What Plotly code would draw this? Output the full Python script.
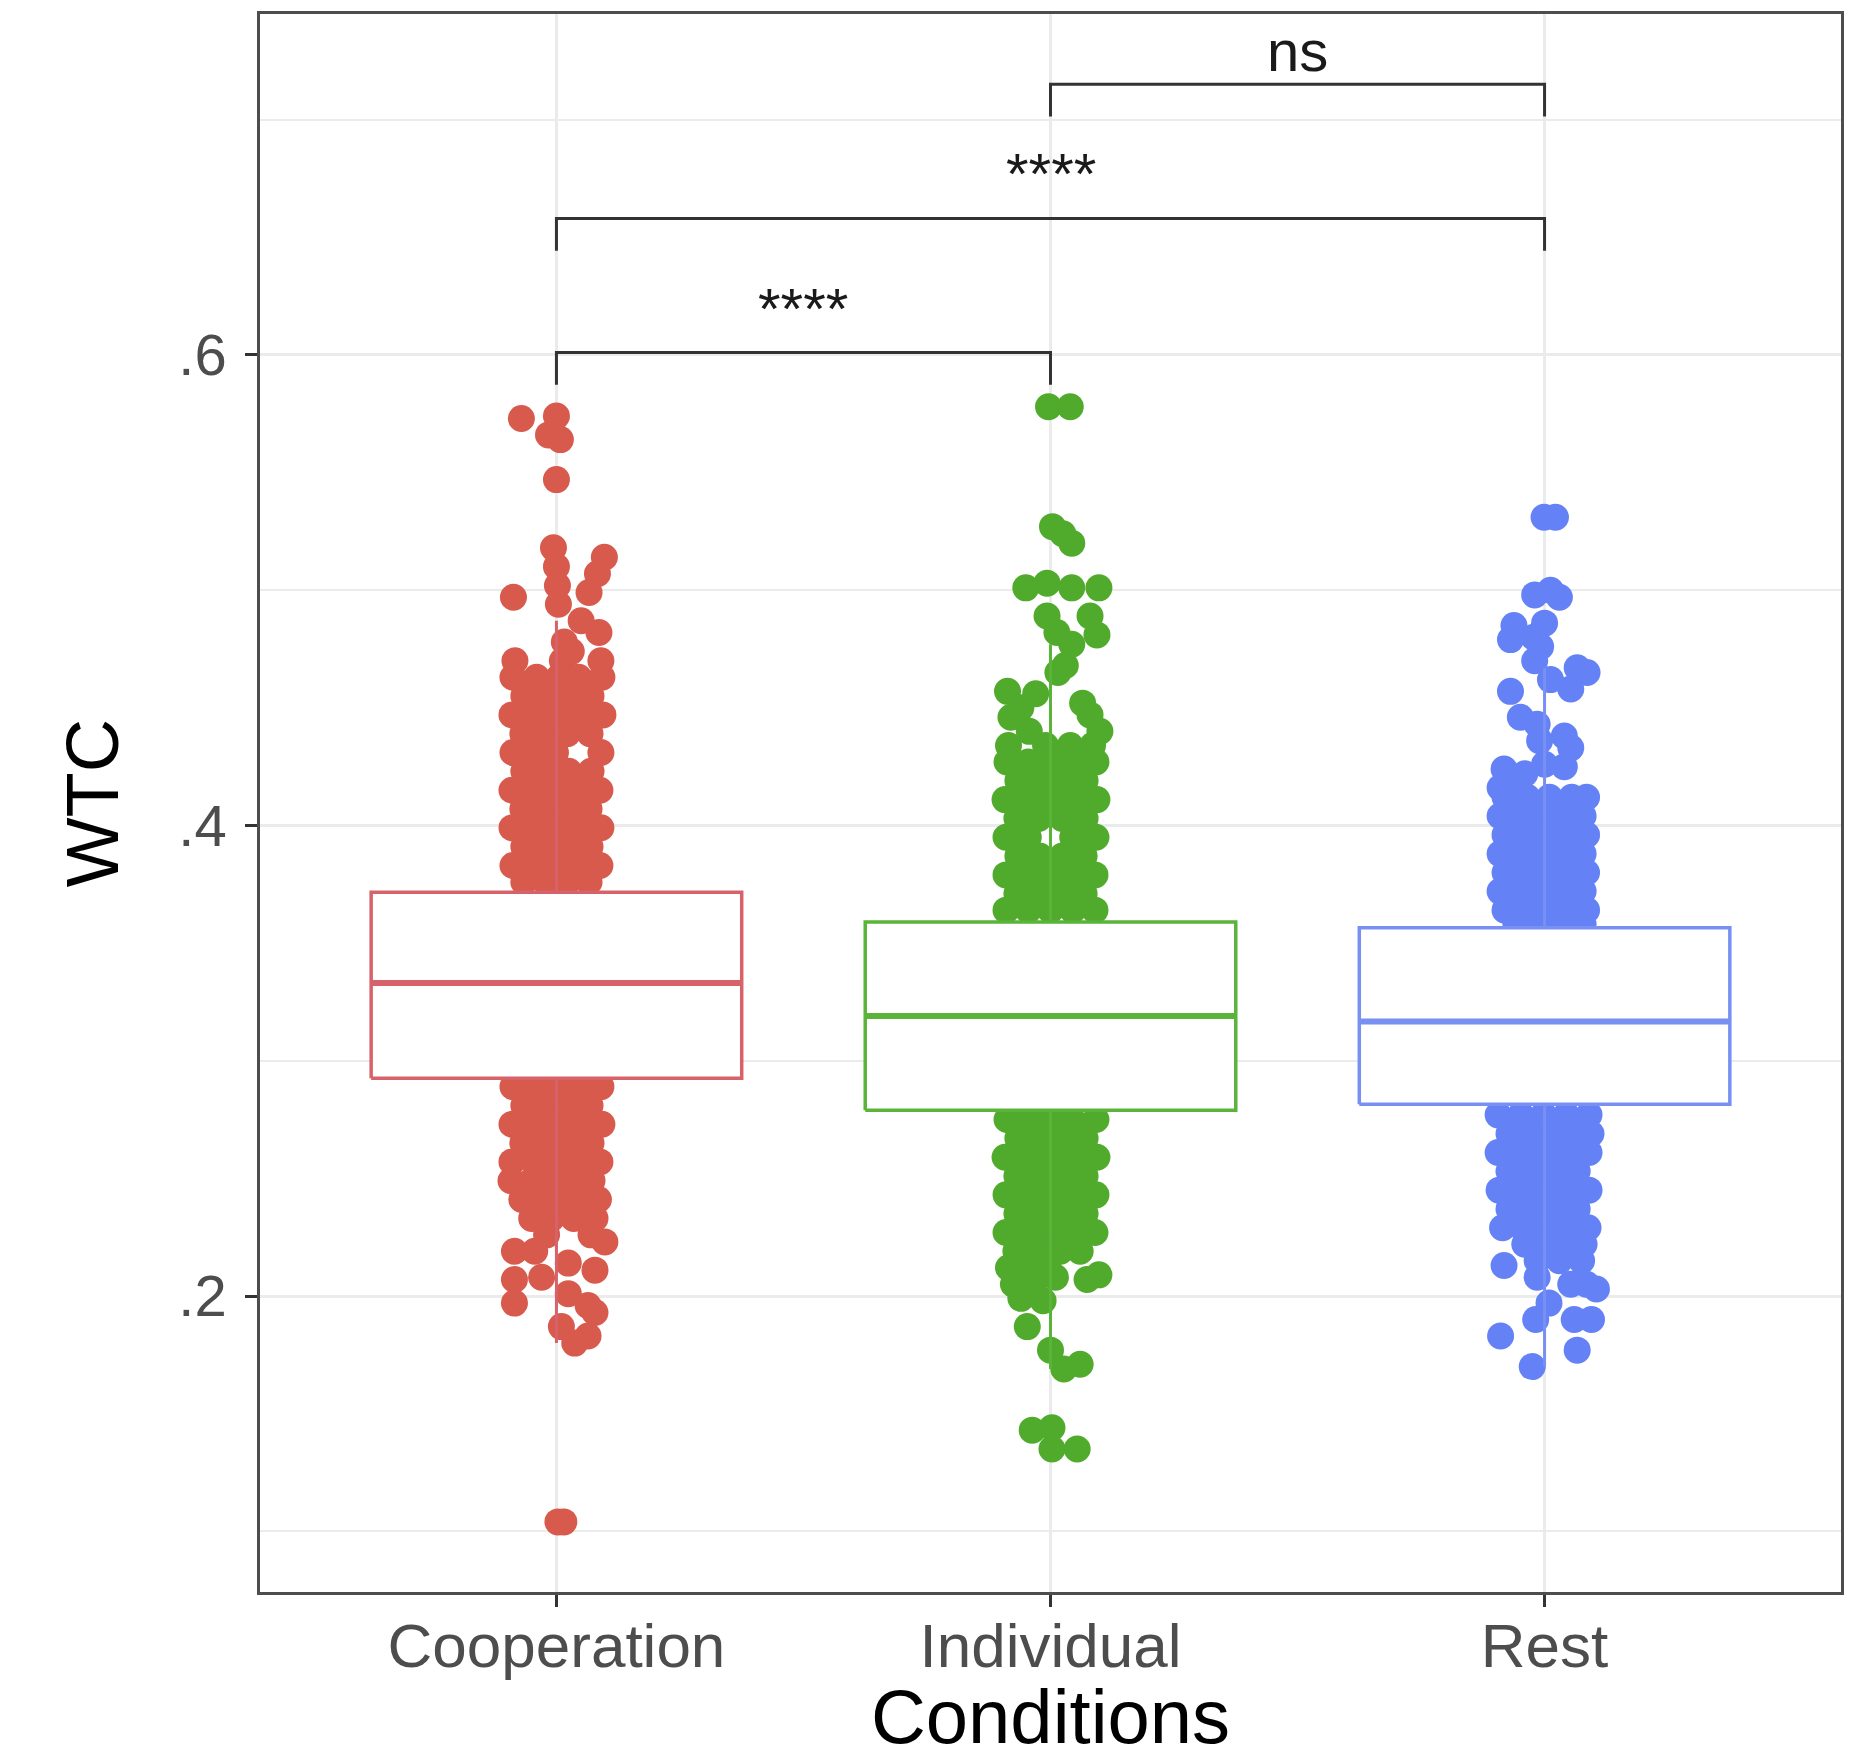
import plotly.graph_objects as go

# ---------------- data ----------------
categories = ["Cooperation", "Individual", "Rest"]
y_tick_values = [0.2, 0.4, 0.6]
y_tick_labels = [".2", ".4", ".6"]
y_minor_values = [0.1, 0.3, 0.5, 0.7]

# box statistics
box_q1 = [0.2926, 0.2790, 0.2815]
box_median = [0.3330, 0.3190, 0.3167]
box_q3 = [0.3716, 0.3590, 0.3565]

# jittered points, grouped by WTC value: (wtc, [horizontal jitter offsets])
coop_rows = [
    (0.574, [0.000]), (0.573, [-0.071]), (0.566, [-0.016]), (0.564, [0.008]),
    (0.547, [0.000]), (0.518, [-0.006]), (0.514, [0.097]), (0.510, [0.000]),
    (0.507, [0.083]), (0.502, [0.002]), (0.499, [0.066]), (0.497, [-0.087]),
    (0.494, [0.004]), (0.487, [0.050]), (0.482, [0.086]), (0.478, [0.016]),
    (0.474, [0.030]),
    (0.470, [-0.084, 0.012, 0.090]),
    (0.463, [-0.088, -0.040, 0.005, 0.045, 0.092]),
    (0.455, [-0.066, -0.020, 0.025, 0.070]),
    (0.447, [-0.090, -0.044, 0.000, 0.046, 0.094]),
    (0.439, [-0.068, -0.022, 0.022, 0.068]),
    (0.431, [-0.088, -0.045, -0.002, 0.090]),
    (0.423, [-0.066, -0.020, 0.025, 0.070]),
    (0.415, [-0.090, -0.044, 0.002, 0.046, 0.088]),
    (0.407, [-0.068, -0.024, 0.022, 0.066]),
    (0.399, [-0.090, -0.046, 0.000, 0.044, 0.090]),
    (0.391, [-0.066, -0.022, 0.024, 0.068]),
    (0.383, [-0.088, -0.044, 0.000, 0.046, 0.088]),
    (0.376, [-0.066, -0.022, 0.022, 0.066]),
    (0.350, [-0.040, 0.030]), (0.310, [0.010, -0.055]),
    (0.289, [-0.088, -0.044, 0.000, 0.044, 0.090]),
    (0.281, [-0.066, -0.022, 0.022, 0.068]),
    (0.273, [-0.090, -0.044, 0.002, 0.046, 0.092]),
    (0.265, [-0.068, -0.022, 0.024, 0.070]),
    (0.257, [-0.090, -0.045, 0.000, 0.045, 0.088]),
    (0.249, [-0.092, -0.050, -0.010, 0.030, 0.072]),
    (0.241, [-0.070, -0.028, 0.012, 0.055, 0.085]),
    (0.233, [-0.050, -0.010, 0.035, 0.078]),
    (0.226, [-0.020, 0.070]), (0.223, [0.098]), (0.219, [-0.085, -0.044]),
    (0.214, [0.024]), (0.211, [0.078]), (0.208, [-0.030]), (0.207, [-0.085]),
    (0.201, [0.024]), (0.197, [-0.085]), (0.196, [0.064]), (0.193, [0.078]),
    (0.187, [0.010]), (0.183, [0.064]), (0.180, [0.037]),
    (0.104, [0.003, 0.015]),
]

indiv_rows = [
    (0.578, [-0.004, 0.040]), (0.527, [0.004]), (0.524, [0.025]), (0.520, [0.043]),
    (0.503, [-0.007]), (0.501, [-0.050, 0.043, 0.098]), (0.489, [-0.007, 0.080]),
    (0.482, [0.013]), (0.481, [0.094]), (0.477, [0.043]), (0.468, [0.030]),
    (0.465, [0.015]), (0.457, [-0.087]), (0.456, [-0.030]), (0.452, [0.065]),
    (0.450, [-0.060]), (0.447, [0.080]), (0.446, [-0.080]), (0.440, [-0.043, 0.100]),
    (0.434, [-0.085, -0.010, 0.040, 0.085]),
    (0.427, [-0.088, -0.045, 0.000, 0.045, 0.092]),
    (0.419, [-0.066, -0.022, 0.024, 0.070]),
    (0.411, [-0.092, -0.046, 0.000, 0.046, 0.094]),
    (0.403, [-0.068, -0.024, 0.024, 0.070]),
    (0.395, [-0.090, -0.045, 0.045, 0.092]),
    (0.387, [-0.066, -0.022, 0.024, 0.068]),
    (0.379, [-0.090, -0.045, 0.002, 0.046, 0.090]),
    (0.371, [-0.068, -0.022, 0.024, 0.068]),
    (0.364, [-0.090, -0.045, 0.000, 0.045, 0.090]),
    (0.330, [0.020, -0.040]), (0.300, [-0.010, 0.050]),
    (0.275, [-0.088, -0.044, 0.000, 0.044, 0.092]),
    (0.267, [-0.066, -0.022, 0.024, 0.070]),
    (0.259, [-0.092, -0.046, 0.000, 0.046, 0.094]),
    (0.251, [-0.068, -0.024, 0.024, 0.070]),
    (0.243, [-0.090, -0.045, 0.000, 0.045, 0.092]),
    (0.235, [-0.068, -0.022, 0.024, 0.070]),
    (0.227, [-0.090, -0.044, 0.000, 0.046, 0.090]),
    (0.219, [-0.070, -0.025, 0.020, 0.060]),
    (0.212, [-0.085, -0.045, -0.005]),
    (0.209, [0.098]), (0.208, [0.010]), (0.207, [0.074]), (0.205, [-0.075]),
    (0.203, [-0.035]), (0.199, [-0.060]), (0.198, [-0.015]), (0.187, [-0.047]),
    (0.177, [0.000]), (0.171, [0.060]), (0.169, [0.027]),
    (0.144, [0.003]), (0.143, [-0.037]), (0.135, [0.003, 0.054]),
]

rest_rows = [
    (0.531, [-0.001, 0.022]), (0.500, [0.012]), (0.498, [-0.020]), (0.497, [0.030]),
    (0.486, [0.000]), (0.485, [-0.062]), (0.480, [-0.022]), (0.479, [-0.069]),
    (0.476, [-0.008]), (0.470, [-0.020]), (0.467, [0.066]), (0.465, [0.086]),
    (0.462, [0.012]), (0.458, [0.053]), (0.457, [-0.069]), (0.446, [-0.049]),
    (0.443, [-0.015]), (0.438, [0.040]), (0.436, [-0.010]), (0.433, [0.053]),
    (0.426, [0.000]), (0.425, [0.040]), (0.424, [-0.082]), (0.422, [-0.040]),
    (0.418, [-0.060]), (0.416, [-0.090]),
    (0.412, [-0.080, -0.035, 0.010, 0.055, 0.085]),
    (0.404, [-0.090, -0.058, -0.013, 0.032, 0.078]),
    (0.396, [-0.080, -0.035, 0.010, 0.055, 0.085]),
    (0.388, [-0.090, -0.058, -0.013, 0.032, 0.078]),
    (0.380, [-0.080, -0.035, 0.010, 0.055, 0.085]),
    (0.372, [-0.090, -0.058, -0.013, 0.032, 0.078]),
    (0.364, [-0.080, -0.035, 0.010, 0.055, 0.085]),
    (0.358, [-0.058, -0.013, 0.032, 0.078]),
    (0.330, [-0.030, 0.040]), (0.300, [0.000]),
    (0.277, [-0.094, -0.048, -0.002, 0.044, 0.090]),
    (0.269, [-0.072, -0.026, 0.020, 0.066, 0.094]),
    (0.261, [-0.094, -0.048, -0.002, 0.044, 0.090]),
    (0.253, [-0.072, -0.026, 0.020, 0.066]),
    (0.245, [-0.092, -0.048, -0.002, 0.044, 0.090]),
    (0.237, [-0.072, -0.026, 0.020, 0.066]),
    (0.229, [-0.085, -0.045, 0.000, 0.044, 0.088]),
    (0.222, [-0.040, 0.000, 0.040, 0.080]),
    (0.215, [-0.015, 0.030, 0.075]),
    (0.213, [-0.082]), (0.208, [-0.015]), (0.205, [0.053, 0.085]), (0.203, [0.105]),
    (0.197, [0.009]), (0.190, [-0.018, 0.060, 0.095]), (0.183, [-0.089]),
    (0.177, [0.066]), (0.170, [-0.025]),
]

# significance brackets
comparisons = [("Cooperation", "Individual"), ("Cooperation", "Rest"), ("Individual", "Rest")]
comparison_labels = ["****", "****", "ns"]
bracket_y = [0.601, 0.658, 0.715]
bracket_tip = 0.0137

# ---------------- styling ----------------
point_colors = ["#D75A4D", "#50AB2D", "#6482F6"]
box_colors = ["#D8626A", "#5AB43A", "#7890F2"]
FONT = "Liberation Sans, Arial, Helvetica, sans-serif"
BOX_HALF = 0.375

fig = go.Figure()

all_rows = [coop_rows, indiv_rows, rest_rows]

# jittered points
for i, rows in enumerate(all_rows):
    xs, ys = [], []
    for wtc, offsets in rows:
        for off in offsets:
            xs.append(i + off)
            ys.append(wtc)
    fig.add_trace(go.Scatter(
        x=xs, y=ys, mode="markers", showlegend=False, hoverinfo="y",
        marker=dict(size=27, color=point_colors[i], line=dict(width=0)),
    ))

# boxplots (drawn as scatter so they sit on top of the points)
for i, rows in enumerate(all_rows):
    q1, med, q3 = box_q1[i], box_median[i], box_q3[i]
    iqr = q3 - q1
    vals = [w for w, offs in rows for _ in offs]
    upper = max(v for v in vals if v <= q3 + 1.5 * iqr)
    lower = min(v for v in vals if v >= q1 - 1.5 * iqr)
    fig.add_trace(go.Scatter(
        x=[i, i, None, i, i], y=[q3, upper, None, q1, lower], mode="lines",
        line=dict(color=box_colors[i], width=3), showlegend=False, hoverinfo="skip",
    ))
    fig.add_trace(go.Scatter(
        x=[i - BOX_HALF, i + BOX_HALF, i + BOX_HALF, i - BOX_HALF, i - BOX_HALF],
        y=[q1, q1, q3, q3, q1], mode="lines", fill="toself", fillcolor="white",
        line=dict(color=box_colors[i], width=3.5), showlegend=False, hoverinfo="skip",
    ))
    fig.add_trace(go.Scatter(
        x=[i - BOX_HALF, i + BOX_HALF], y=[med, med], mode="lines",
        line=dict(color=box_colors[i], width=6), showlegend=False, hoverinfo="skip",
    ))

# brackets
annotations = []
for (a, b), label, yb in zip(comparisons, comparison_labels, bracket_y):
    ia, ib = categories.index(a), categories.index(b)
    fig.add_trace(go.Scatter(
        x=[ia, ia, ib, ib], y=[yb - bracket_tip, yb, yb, yb - bracket_tip],
        mode="lines", line=dict(color="#333333", width=3),
        showlegend=False, hoverinfo="skip",
    ))
    is_ns = label == "ns"
    annotations.append(dict(
        x=(ia + ib) / 2, y=yb, xref="x", yref="y", text=label, showarrow=False,
        yanchor="bottom", yshift=-1 if is_ns else 10,
        font=dict(family=FONT, size=58, color="#1A1A1A"),
    ))

fig.update_layout(
    width=1856, height=1759,
    margin=dict(l=260, r=15, t=14, b=167),
    paper_bgcolor="white", plot_bgcolor="white",
    font=dict(family=FONT),
    annotations=annotations,
    showlegend=False,
)

fig.update_xaxes(
    range=[-0.6, 2.6], tickmode="array", tickvals=[0, 1, 2], ticktext=categories,
    showgrid=True, gridcolor="#EBEBEB", gridwidth=2.5, zeroline=False, automargin=False,
    showline=True, mirror=True, linecolor="#4D4D4D", linewidth=2.5,
    ticks="outside", ticklen=12, tickwidth=2.5, tickcolor="#333333",
    tickfont=dict(family=FONT, size=62, color="#4D4D4D"), ticklabelstandoff=-14,
    title=dict(text="Conditions", font=dict(family=FONT, size=76, color="black"), standoff=27),
)
fig.update_yaxes(
    range=[0.0742, 0.7449], tickmode="array", tickvals=y_tick_values, ticktext=y_tick_labels,
    showgrid=True, gridcolor="#EBEBEB", gridwidth=2.5, zeroline=False, automargin=False,
    showline=True, mirror=True, linecolor="#4D4D4D", linewidth=2.5,
    ticks="outside", ticklen=12, tickwidth=2.5, tickcolor="#333333",
    tickfont=dict(family=FONT, size=58, color="#4D4D4D"), ticklabelstandoff=7,
    minor=dict(tickvals=y_minor_values, showgrid=True, gridcolor="#EBEBEB", gridwidth=1.5, ticks=""),
    title=dict(text="WTC", font=dict(family=FONT, size=74, color="black"), standoff=36),
)

# remove the default page margin so the figure starts at the window's corner
fig.write_html(
    "out.html",
    config={"displayModeBar": False},
    post_script="document.body.style.margin='0';document.body.style.overflow='hidden';",
)
